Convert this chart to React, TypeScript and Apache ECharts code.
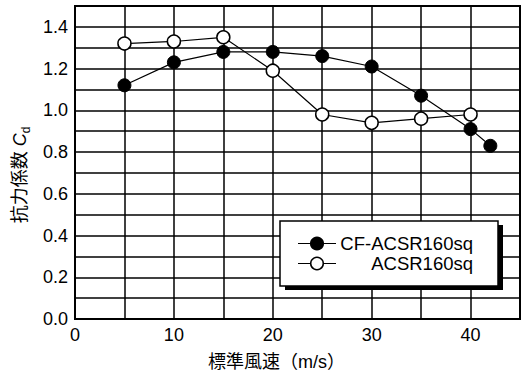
import React, { useEffect, useRef } from "react";
import * as echarts from "echarts";

const windSpeedCF = [5, 10, 15, 20, 25, 30, 35, 40, 42];
const cdCF = [1.12, 1.23, 1.28, 1.28, 1.26, 1.21, 1.07, 0.91, 0.83];
const windSpeedACSR = [5, 10, 15, 20, 25, 30, 35, 40];
const cdACSR = [1.32, 1.33, 1.35, 1.19, 0.98, 0.94, 0.96, 0.98];
const seriesNames = ["CF-ACSR160sq", "ACSR160sq"];
const xAxisName = "標準風速（m/s）";
const yAxisNameMain = "抗力係数 ";

const FONT = "'Liberation Sans', 'Noto Sans CJK JP', sans-serif";

export default function App() {
  const ref = useRef<HTMLDivElement>(null);
  useEffect(() => {
    if (!ref.current) return;
    const chart = echarts.init(ref.current, undefined, { renderer: "svg" });
    const legendX = 280, legendY = 221, legendW = 218, legendH = 65;
    const rows = [243.5, 263.5];
    const option: any = {
      animation: false,
      backgroundColor: "#fff",
      textStyle: { fontFamily: FONT, color: "#000" },
      grid: {
        left: 75, right: 2, top: 6, bottom: 61,
        show: true, borderColor: "#000", borderWidth: 2, containLabel: false,
      },
      xAxis: {
        type: "value", min: 0, max: 45, interval: 5,
        name: xAxisName, nameLocation: "middle", nameGap: 34,
        nameTextStyle: { fontSize: 18, color: "#000", fontFamily: FONT, padding: [0, 42, 0, 0] },
        axisLine: { show: true, lineStyle: { color: "#000", width: 2 } },
        axisTick: { show: false },
        axisLabel: {
          fontSize: 18, color: "#000", margin: 7, fontFamily: FONT,
          formatter: (v: number) => (Math.round(v) % 10 === 0 ? String(v) : ""),
        },
        splitLine: { show: true, lineStyle: { color: "#000", width: 1.5 } },
      },
      yAxis: {
        type: "value", min: 0, max: 1.5, interval: 0.1,
        name: "{m|" + yAxisNameMain + "}{c|C}{d|d}",
        nameLocation: "middle", nameGap: 41, nameRotate: 90,
        nameTextStyle: {
          fontSize: 18, color: "#000", fontFamily: FONT, padding: [0, 25, 0, 0],
          rich: {
            m: { fontSize: 18, fontFamily: FONT, color: "#000", lineHeight: 21, verticalAlign: "bottom" },
            c: { fontSize: 18, fontFamily: FONT, fontStyle: "italic", color: "#000", lineHeight: 21, verticalAlign: "bottom" },
            d: { fontSize: 12, fontFamily: FONT, color: "#000", lineHeight: 21, verticalAlign: "bottom", padding: [0, 0, -3, 0] },
          },
        },
        axisLine: { show: true, lineStyle: { color: "#000", width: 2 } },
        axisTick: { show: false },
        axisLabel: {
          fontSize: 18, color: "#000", margin: 7, fontFamily: FONT,
          formatter: (v: number) => (Math.round(v * 10) % 2 === 0 ? v.toFixed(1) : ""),
        },
        splitLine: { show: true, lineStyle: { color: "#000", width: 1.5 } },
      },
      series: [
        {
          name: seriesNames[0], type: "line",
          data: windSpeedCF.map((x, i) => [x, cdCF[i]]),
          symbol: "circle", symbolSize: 13,
          itemStyle: { color: "#000", borderColor: "#000", borderWidth: 1 },
          lineStyle: { color: "#000", width: 1.2 },
          z: 3,
        },
        {
          name: seriesNames[1], type: "line",
          data: windSpeedACSR.map((x, i) => [x, cdACSR[i]]),
          symbol: "circle", symbolSize: 13,
          itemStyle: { color: "#fff", borderColor: "#000", borderWidth: 1.5 },
          lineStyle: { color: "#000", width: 1.2 },
          z: 3,
        },
      ],
      graphic: [
        { type: "rect", z: 100, shape: { x: legendX + 5, y: legendY + 4, width: legendW, height: legendH }, style: { fill: "#000" } },
        { type: "rect", z: 101, shape: { x: legendX, y: legendY, width: legendW, height: legendH }, style: { fill: "#fff", stroke: "#000", lineWidth: 1.5 } },
        ...seriesNames.flatMap((name, i) => [
          { type: "line", z: 102, shape: { x1: 298, y1: rows[i], x2: 336, y2: rows[i] }, style: { stroke: "#000", lineWidth: 1.2 } },
          { type: "circle", z: 103, shape: { cx: 317, cy: rows[i], r: 6.3 }, style: { fill: i === 0 ? "#000" : "#fff", stroke: "#000", lineWidth: 1.5 } },
          { type: "text", z: 103, x: 473, y: rows[i], style: { text: name, fill: "#000", font: "18.5px " + FONT, align: "right", verticalAlign: "middle" } },
        ]),
      ],
    };
    chart.setOption(option);
    return () => chart.dispose();
  }, []);
  return <div ref={ref} style={{ position: "fixed", left: 0, top: 0, width: 523, height: 380 }} />;
}
